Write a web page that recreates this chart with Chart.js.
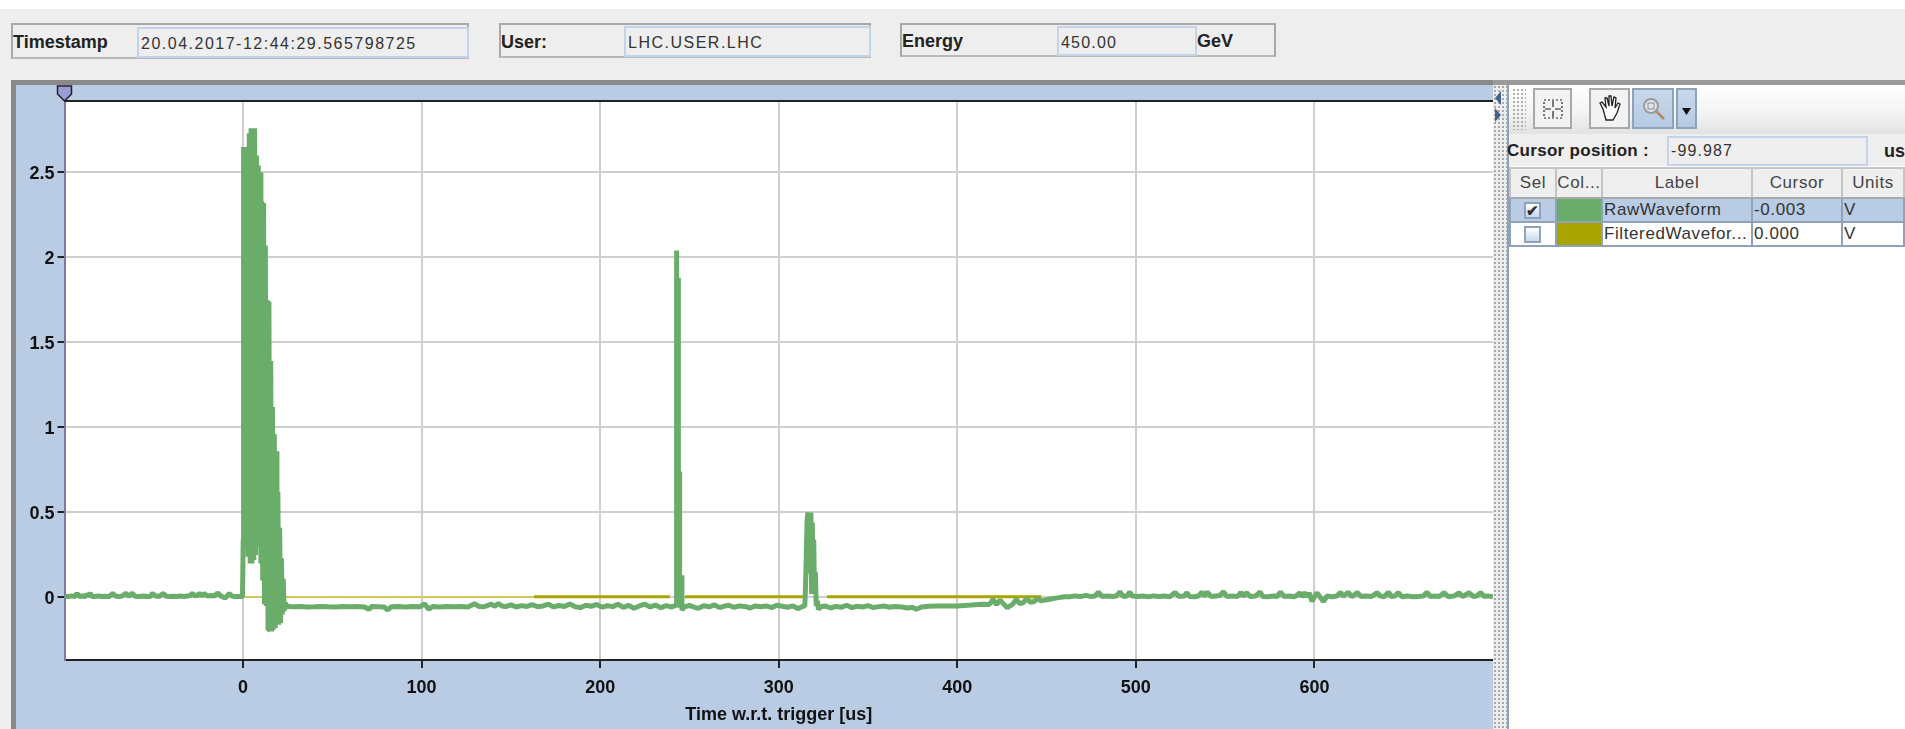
<!DOCTYPE html>
<html>
<head>
<meta charset="utf-8">
<title>Waveform</title>
<script src="https://cdn.jsdelivr.net/npm/chart.js@4/dist/chart.umd.min.js"></script>
<style>
  html, body { margin: 0; padding: 0; width: 1905px; height: 729px; overflow: hidden; background: #eeeeee; }
  body { font-family: "Liberation Sans", sans-serif; color: #222; position: relative; }
  .abs { position: absolute; box-sizing: border-box; white-space: nowrap; }
  .top-strip { left: 0; top: 0; width: 1905px; height: 9px; background: #fff; }
  .box { border: 2px solid #a8a8a8; border-bottom-color: #b8b8b8; background: #eeeeee; }
  .field { background: #eeeeee; border: 2px solid #c4d4e8; font-size: 16px; letter-spacing: 1.5px; line-height: 29px; padding-left: 2px; color: #333; }
  .lbl { font-weight: bold; font-size: 18px; color: #222; line-height: 20px; }
  #panel { left: 11px; top: 80px; width: 1482px; height: 649px; border-left: 5px solid #8a8a8a; border-top: 5px solid #8a8a8a; background: #b9cce4; }
  #panel canvas { position: absolute; left: 0; top: 0; }
  .topline { left: 1493px; top: 80px; width: 412px; height: 5px; background: #9a9a9a; }
  #split { left: 1493px; top: 85px; width: 14px; height: 644px; background-color: #eeeeee; background-image: radial-gradient(#a8a8a8 1px, transparent 1.2px); background-size: 4px 4px; }
  #side { left: 1507px; top: 85px; width: 398px; height: 644px; background: #fff; border-left: 2px solid #8ea2bc; }
  #tools { left: 1509px; top: 85px; width: 396px; height: 49px; background: linear-gradient(#ffffff, #f4f4f4 55%, #e2e2e2); }
  .grip { left: 1512px; top: 88px; width: 14px; height: 42px; background-image: radial-gradient(#b0b0b0 1px, transparent 1.2px); background-size: 4px 4px; }
  .btn { border: 2px solid #a8a8a8; background: #f2f2f2; top: 88px; height: 41px; }
  .btn.on { background: linear-gradient(#c8d8ec, #b6cae2); border-color: #8ea2bc; }
  .btn svg { position: absolute; left: 0; top: 0; }
  .cursor-row { left: 1509px; top: 134px; width: 396px; height: 32px; background: #eeeeee; }
  table.abs { border-collapse: collapse; left: 1509px; top: 167px; width: 394px; table-layout: fixed; font-size: 17px; letter-spacing: 0.6px; }
  table th { font-weight: normal; height: 28px; background: #efefef; border: 2px solid #c4c4c4; border-bottom-color: #a8a8a8; color: #444; padding: 0; }
  table td { height: 22px; line-height: 20px; padding: 0 0 0 1px; border: 2px solid #8ea2bc; overflow: hidden; color: #333; }
  tr.picked td { background: #b9cce4; }
  .chk { display: inline-block; width: 17px; height: 17px; margin-left: 12px; border: 2px solid #8ea2bc; background: linear-gradient(#ffffff, #c8d8ec); vertical-align: middle; line-height: 14px; text-align: center; font-size: 15px; font-weight: bold; letter-spacing: 0; box-sizing: border-box; }
</style>
</head>
<body>
<div class="abs top-strip"></div>

<div class="abs box" style="left:11px;top:23px;width:458px;height:36px"></div>
<div class="abs lbl" style="left:13px;top:32px">Timestamp</div>
<div class="abs field" style="left:137px;top:27px;width:332px;height:31px">20.04.2017-12:44:29.565798725</div>

<div class="abs box" style="left:499px;top:23px;width:372px;height:35px"></div>
<div class="abs lbl" style="left:501px;top:32px">User:</div>
<div class="abs field" style="left:624px;top:26px;width:247px;height:31px">LHC.USER.LHC</div>

<div class="abs box" style="left:900px;top:23px;width:376px;height:34px"></div>
<div class="abs lbl" style="left:902px;top:31px">Energy</div>
<div class="abs field" style="left:1057px;top:26px;width:140px;height:30px;letter-spacing:1.2px">450.00</div>
<div class="abs lbl" style="left:1197px;top:31px">GeV</div>

<div class="abs" id="panel"><canvas id="waveChart" width="1477" height="644"></canvas></div>
<div class="abs topline"></div>
<div class="abs" id="split">
  <svg width="14" height="44" style="position:absolute;left:0;top:0">
    <polygon points="8,6 2,13 8,20" fill="#45628e"/>
    <polygon points="2,23 8,30 2,37" fill="#45628e"/>
  </svg>
</div>
<div class="abs" id="side"></div>
<div class="abs" id="tools"></div>
<div class="abs grip"></div>

<div class="abs btn" style="left:1533px;width:39px">
  <svg width="35" height="37" fill="none" stroke="#222" stroke-width="1.2">
    <rect x="9" y="10" width="18" height="18" stroke-dasharray="2 2"/>
    <path d="M18 11v6M18 21v6M10 19h6M20 19h6"/>
  </svg>
</div>
<div class="abs btn" style="left:1589px;width:41px">
  <svg width="37" height="37" fill="#fff" stroke="#222" stroke-width="1.3">
    <path d="M12 19l-3-6 2-1 4 5-1-9 2 0 2 8 0-10 2 0 1 10 2-9 2 1-1 10 3-5 2 1-3 9-4 7h-7z"/>
  </svg>
</div>
<div class="abs btn on" style="left:1632px;width:42px">
  <svg width="38" height="37" fill="none">
    <circle cx="17" cy="16" r="7" stroke="#9a9a9a" stroke-width="2" fill="#dfe7f0"/>
    <rect x="14" y="13" width="6" height="6" stroke="#888"/>
    <path d="M22 21l8 8" stroke="#b08a60" stroke-width="2.5"/>
  </svg>
</div>
<div class="abs btn on" style="left:1676px;width:21px">
  <svg width="17" height="37"><polygon points="4,18 13,18 8.5,25" fill="#111"/></svg>
</div>

<div class="abs cursor-row"></div>
<div class="abs lbl" style="left:1507px;top:141px;font-size:17px;letter-spacing:.3px">Cursor position :</div>
<div class="abs field" style="left:1667px;top:136px;width:201px;height:30px;line-height:26px;letter-spacing:1.1px">-99.987</div>
<div class="abs lbl" style="left:1884px;top:141px">us</div>

<table class="abs">
  <colgroup><col style="width:46px"><col style="width:46px"><col style="width:150px"><col style="width:90px"><col style="width:62px"></colgroup>
  <tr><th>Sel</th><th>Col...</th><th>Label</th><th>Cursor</th><th>Units</th></tr>
  <tr class="picked"><td><span class="chk">&#10004;</span></td><td style="background:#6aad6a"></td><td>RawWaveform</td><td>-0.003</td><td>V</td></tr>
  <tr><td><span class="chk"></span></td><td style="background:#a8a400"></td><td>FilteredWavefor...</td><td>0.000</td><td>V</td></tr>
</table>

<script>
// values, time in us, amplitude in V
const xTicks = [0, 100, 200, 300, 400, 500, 600];
const yTicks = [0, 0.5, 1, 1.5, 2, 2.5];
const xRange = [-99.987, 700];
const yRange = [-0.368, 2.92];
const cursorTime = -99.987;

const preTimes = [-99.9, -98, -96, -94, -93, -92, -90, -88.5, -88, -87, -85.6, -84.5, -83, -81, -79, -77, -75, -73, -71.5, -70, -68, -65.6, -64, -62, -60.5, -58, -56, -54, -52, -50.7, -49, -47, -44.8, -43, -41, -39, -37, -35, -33, -31, -29.5, -28.4, -27, -25.5, -24.6, -23, -21.8, -20, -18, -16, -14.3, -12.5, -10, -9, -7.7, -6, -4, -2, -0.3];
const preVolts = [0.008, 0.005, 0.009, 0.006, 0.024, 0.007, 0.008, 0.006, 0.023, 0.007, 0.024, 0.006, 0.005, 0.008, 0.006, 0.007, 0.005, 0.024, 0.008, 0.006, 0.007, 0.025, 0.006, 0.026, 0.007, 0.006, 0.008, 0.005, 0.006, 0.024, 0.008, 0.006, 0.023, 0.007, 0.005, 0.007, 0.006, 0.008, 0.006, 0.009, 0.011, 0.025, 0.01, 0.012, 0.024, 0.01, 0.023, 0.008, 0.011, 0.009, 0.026, 0.01, -0.004, 0.008, 0.023, 0.007, 0.005, 0.006, 0.004];

const burstTimes = [0.1, 0.3, 0.8, 1.2, 1.8, 2.3, 2.9, 3.5, 4, 4.5, 5, 5.5, 6, 6.5, 7, 7.5, 8, 8.5, 9, 9.5, 10, 10.5, 11, 11.5, 12, 12.5, 13, 13.5, 14, 14.5, 15, 15.5, 16, 16.5, 17, 17.5, 18, 18.5, 19, 19.5, 20, 20.5, 21, 21.5, 22, 22.5, 23, 23.6];
const burstVolts = [0.34, 2.65, 0.36, 2.65, 0.52, 2.63, 0.24, 2.73, 0.2, 2.76, 0.2, 2.76, 0.22, 2.76, 0.25, 2.6, 0.3, 2.54, 0.33, 2.5, 0.2, 2.33, 0.1, 2.32, -0.04, 2.07, -0.05, 1.75, -0.19, 1.74, -0.2, 1.39, -0.2, 1.12, -0.19, 0.96, -0.18, 0.86, -0.16, 0.62, -0.16, 0.41, -0.15, 0.23, -0.1, 0.11, -0.08, -0.03];

const restATimes = [24, 28, 32, 36, 40, 44, 48, 52, 56, 60, 64, 68, 70.4, 72, 76, 79, 81, 83, 87, 91, 95, 99, 101.6, 103, 104, 106, 110, 114, 118, 122, 126, 129.6, 132, 135, 139, 141, 143, 145, 147, 150, 153, 156, 159, 162, 165, 168, 171, 174, 177, 180, 183, 186, 189, 192, 195, 198, 201, 204, 207, 210, 213, 216, 219, 222, 225, 228, 231, 234, 237, 240, 241.8];
const restAVolts = [-0.052, -0.055, -0.054, -0.056, -0.055, -0.053, -0.055, -0.056, -0.054, -0.055, -0.053, -0.056, -0.07, -0.054, -0.055, -0.056, -0.074, -0.055, -0.053, -0.056, -0.054, -0.055, -0.038, -0.055, -0.07, -0.054, -0.056, -0.053, -0.055, -0.054, -0.056, -0.037, -0.053, -0.055, -0.039, -0.052, -0.036, -0.05, -0.054, -0.044, -0.056, -0.048, -0.053, -0.042, -0.055, -0.05, -0.04, -0.056, -0.047, -0.053, -0.038, -0.055, -0.06, -0.046, -0.052, -0.041, -0.057, -0.049, -0.054, -0.04, -0.058, -0.047, -0.064, -0.05, -0.04, -0.056, -0.045, -0.06, -0.048, -0.056, -0.05];

const spikeATimes = [242.6, 242.8, 243.1, 243.6, 243.8, 244.2, 244.5, 245.3, 245.8];
const spikeAVolts = [-0.04, 2.04, -0.05, 1.88, -0.05, 0.74, -0.06, 0.13, -0.075];

const restBTimes = [247, 250, 253, 255, 258, 261, 264, 267, 270, 272, 275, 278, 281, 284, 287, 290, 293, 296, 299, 302, 305, 308, 311, 313.5];
const restBVolts = [-0.057, -0.047, -0.058, -0.064, -0.049, -0.055, -0.044, -0.06, -0.05, -0.046, -0.058, -0.05, -0.053, -0.062, -0.05, -0.055, -0.05, -0.06, -0.046, -0.052, -0.058, -0.05, -0.066, -0.052];

const pulseTimes = [314.6, 314.9, 315.4, 315.9, 316.4, 316.6, 317.1, 317.5, 318, 318.4, 318.8, 319.3, 319.6, 320, 320.5, 321, 321.6, 322.2];
const pulseVolts = [-0.05, 0.03, 0.24, 0.46, 0.5, 0.3, 0.5, 0.14, 0.5, 0.02, 0.44, 0.06, 0.34, 0.02, 0.15, -0.05, -0.02, -0.07];

const restCTimes = [323.5, 326, 329, 332, 335, 338, 341, 344, 347, 350, 353, 356, 359, 362, 365, 369, 372, 375, 377, 380, 384, 388, 392, 396, 400, 404, 408, 412, 415, 418, 420, 422, 424, 426, 428, 431, 433, 435, 437, 439, 441, 443, 445, 447, 449, 451, 453, 455, 457];
const restCVolts = [-0.055, -0.05, -0.062, -0.053, -0.058, -0.046, -0.06, -0.052, -0.056, -0.048, -0.06, -0.054, -0.05, -0.058, -0.053, -0.056, -0.062, -0.058, -0.07, -0.056, -0.052, -0.05, -0.051, -0.05, -0.05, -0.047, -0.045, -0.042, -0.04, -0.041, -0.012, -0.042, -0.015, -0.04, -0.06, -0.04, -0.012, -0.036, -0.03, -0.008, -0.028, -0.024, -0.006, -0.02, -0.016, -0.012, -0.008, -0.004, -0.001];

const tailTimes = [460, 463, 466, 469, 472, 475, 477, 479, 481, 484, 487, 489, 491, 493, 495, 496.6, 498, 501, 504, 507, 510, 513, 516, 519, 522, 524, 527, 528.6, 530, 533, 535, 537, 538.5, 540, 542, 545, 547, 549, 551, 554, 557, 558.8, 560, 562, 564, 567, 569.6, 571, 574, 577, 579, 581, 583, 586, 589, 592, 593, 594.5, 596, 597, 598.7, 600, 601.5, 603, 605, 607, 610, 612.5, 614.7, 616, 619, 621, 624, 626, 629, 632, 635, 637, 639, 641.5, 643, 645, 647, 649, 652, 655, 658, 661, 663, 665, 668, 670, 672.6, 675, 678, 681, 683, 686.5, 689, 691, 693, 695, 697, 699.9];
const tailVolts = [0.004, 0.004, 0.009, 0.005, 0.012, 0.005, 0.008, 0.031, 0.006, 0.009, 0.005, 0.008, 0.033, 0.006, 0.009, 0.032, 0.008, 0.005, 0.008, 0.004, 0.009, 0.005, 0.008, 0.004, 0.03, 0.006, 0.008, 0.029, 0.006, 0.004, 0.008, 0.031, 0.008, 0.032, 0.006, 0.009, 0.011, 0.033, 0.006, 0.008, 0.005, 0.03, 0.008, 0.027, 0.005, 0.008, 0.033, 0.006, 0.004, 0.008, 0.005, 0.031, 0.006, 0.008, 0.004, 0.027, 0.004, 0.028, 0.004, 0.027, -0.024, 0.006, 0.027, 0.005, -0.024, 0.008, 0.004, 0.008, 0.031, 0.006, 0.031, 0.004, 0.029, 0.006, 0.009, 0.005, 0.028, 0.008, 0.004, 0.031, 0.006, 0.008, 0.029, 0.004, 0.008, 0.004, 0.006, 0.008, 0.03, 0.005, 0.008, 0.006, 0.028, 0.004, 0.008, 0.027, 0.005, 0.028, 0.006, 0.008, 0.029, 0.006, 0.009, 0.004];

const filteredThinTimes = [-1, 163];
const filteredThinVolts = [0.001, 0.002];
const filteredThickTimes = [163, 239, null, 247.5, 314, null, 318, 318, null, 319, 319, null, 327, 447];
const filteredThickVolts = [0.004, 0.004, null, 0.004, 0.004, null, 0.28, 0.2, null, 0.16, 0.12, null, 0.004, 0.004];

const rawTimes = [...preTimes, ...burstTimes, ...restATimes, ...spikeATimes, ...restBTimes, ...pulseTimes, ...restCTimes, ...tailTimes];
const rawVolts = [...preVolts, ...burstVolts, ...restAVolts, ...spikeAVolts, ...restBVolts, ...pulseVolts, ...restCVolts, ...tailVolts];

function toPoints(times, volts) {
  return times.map((t, i) => ({ x: t, y: volts[i] }));
}

// white plot face, black top rule and the cursor flag on the top edge
const plotFrame = {
  id: "plotFrame",
  beforeDraw(chart) {
    const { ctx, chartArea: a } = chart;
    ctx.save();
    ctx.fillStyle = "#ffffff";
    ctx.fillRect(a.left, a.top, a.right - a.left, a.bottom - a.top);
    ctx.restore();
  },
  afterDraw(chart) {
    const { ctx, chartArea: a, scales } = chart;
    const cx = scales.x.getPixelForValue(cursorTime);
    ctx.save();
    ctx.strokeStyle = "#222222";
    ctx.lineWidth = 2;
    ctx.beginPath();
    ctx.moveTo(a.left, a.top);
    ctx.lineTo(a.right, a.top);
    ctx.stroke();
    ctx.fillStyle = "#9c9cd4";
    ctx.lineWidth = 1.5;
    ctx.beginPath();
    ctx.moveTo(cx - 7, a.top - 15);
    ctx.lineTo(cx + 7, a.top - 15);
    ctx.lineTo(cx + 7, a.top - 7);
    ctx.lineTo(cx, a.top);
    ctx.lineTo(cx - 7, a.top - 7);
    ctx.closePath();
    ctx.fill();
    ctx.stroke();
    ctx.restore();
  },
};

new Chart(document.querySelector("#waveChart"), {
  type: "line",
  data: {
    datasets: [
      {
        label: "RawWaveform",
        data: toPoints(rawTimes, rawVolts),
        borderColor: "#6aad6a",
        borderWidth: 5,
        borderJoinStyle: "bevel",
        pointRadius: 0,
        tension: 0,
      },
      {
        label: "FilteredWaveform",
        data: toPoints(filteredThickTimes, filteredThickVolts),
        borderColor: "#a8a400",
        borderWidth: 3,
        pointRadius: 0,
        tension: 0,
      },
      {
        label: "FilteredWaveform thin",
        data: toPoints(filteredThinTimes, filteredThinVolts),
        borderColor: "#cfc43a",
        borderWidth: 1.5,
        pointRadius: 0,
        tension: 0,
      },
    ],
  },
  options: {
    responsive: false,
    animation: false,
    layout: { padding: { top: 16, right: 0, left: 0, bottom: 0 } },
    plugins: { legend: { display: false }, tooltip: { enabled: false } },
    scales: {
      x: {
        type: "linear",
        min: xRange[0],
        max: xRange[1],
        afterBuildTicks(axis) {
          axis.ticks = xTicks.map((v) => ({ value: v }));
        },
        afterFit(axis) {
          axis.height = 69;
        },
        grid: { color: "#cfcfcf", lineWidth: 2, tickColor: "#222222", tickLength: 8, tickWidth: 2 },
        border: { color: "#222222", width: 2 },
        ticks: {
          color: "#111111",
          font: { family: "Liberation Sans", size: 18, weight: "bold" },
          padding: 9,
          maxRotation: 0,
          autoSkip: false,
          callback: (v) => String(v),
        },
        title: {
          display: true,
          text: "Time w.r.t. trigger [us]",
          color: "#111111",
          font: { family: "Liberation Sans", size: 18, weight: "bold" },
          padding: { top: 0, bottom: 3 },
        },
      },
      y: {
        type: "linear",
        min: yRange[0],
        max: yRange[1],
        afterBuildTicks(axis) {
          axis.ticks = yTicks.map((v) => ({ value: v }));
        },
        afterFit(axis) {
          axis.width = 48.5;
        },
        grid: { color: "#cfcfcf", lineWidth: 2, tickColor: "#222222", tickLength: 7, tickWidth: 2 },
        border: { color: "#7a7aa8", width: 2 },
        ticks: {
          color: "#111111",
          font: { family: "Liberation Sans", size: 18, weight: "bold" },
          padding: 3,
          labelOffset: 2,
          autoSkip: false,
          callback: (v) => String(v),
        },
      },
    },
  },
  plugins: [plotFrame],
});
</script>
</body>
</html>
